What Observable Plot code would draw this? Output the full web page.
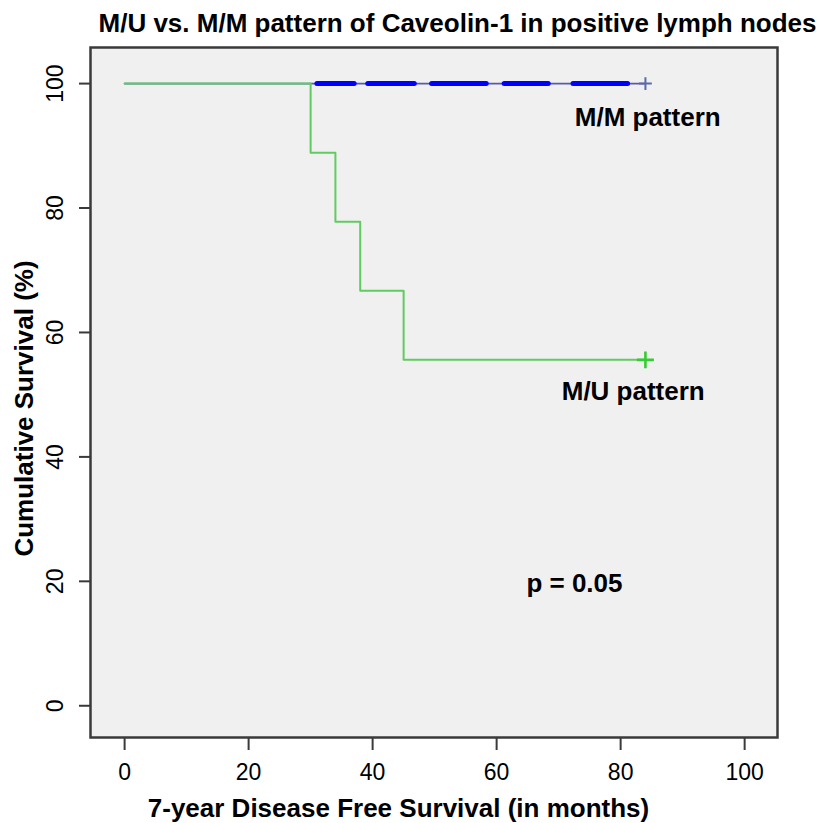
<!DOCTYPE html>
<html>
<head>
<meta charset="utf-8">
<script src="https://cdn.jsdelivr.net/npm/d3@7"></script>
<script src="https://cdn.jsdelivr.net/npm/@observablehq/plot@0.6"></script>
<style>
  html, body { margin: 0; padding: 0; background: #ffffff; }
  #chart svg { display: block; }
</style>
</head>
<body>
<div id="chart"></div>
<script>
// M/U pattern Kaplan–Meier steps
const muMonths = [0, 30, 34, 38, 45, 84];
const muSurvival = [100, 88.9, 77.8, 66.7, 55.6, 55.6];
// M/M pattern (no events)
const mmMonths = [0, 84];
const mmSurvival = [100, 100];
// clustered censoring marks on the M/M curve (month ranges)
const mmCensorStart = [31.1, 39.3, 49.6, 61.3, 72.4];
const mmCensorEnd = [37.1, 46.8, 58.4, 68.4, 81.2];
// end-of-follow-up censor marks
const endCensorMonth = [84, 84];
const endCensorSurvival = [55.6, 100];
const endCensorGroup = ["M/U", "M/M"];
// ticks
const xTicks = [0, 20, 40, 60, 80, 100];
const yTicks = [0, 20, 40, 60, 80, 100];
// texts
const title = "M/U vs. M/M pattern of Caveolin-1 in positive lymph nodes";
const xLabel = "7-year Disease Free Survival (in months)";
const yLabel = "Cumulative Survival (%)";
const annotations = [
  {x: 72.6, y: 94.5, text: "M/M pattern"},
  {x: 70.5, y: 50.5, text: "M/U pattern"},
  {x: 64.8, y: 19.6, text: "p = 0.05"}
];

const mu = muMonths.map((m, i) => ({month: m, surv: muSurvival[i]}));
const mm = mmMonths.map((m, i) => ({month: m, surv: mmSurvival[i]}));
const clusters = mmCensorStart.map((s, i) => ({start: s, end: mmCensorEnd[i], surv: 100}));
const ends = endCensorMonth.map((m, i) => ({month: m, surv: endCensorSurvival[i], group: endCensorGroup[i]}));

const font = "'Liberation Sans', Arial, sans-serif";

const chart = Plot.plot({
  width: 824,
  height: 823,
  marginTop: 47,
  marginLeft: 90,
  marginRight: 47,
  marginBottom: 86,
  style: {fontFamily: font, color: "#000", background: "#ffffff"},
  x: {domain: [-5.5, 105.3]},
  y: {domain: [-5.1, 105.8]},
  marks: [
    Plot.frame({fill: "#f0f0f0", stroke: "none"}),
    Plot.line(mm, {x: "month", y: "surv", stroke: "#5a5aaa", strokeWidth: 1.6}),
    Plot.ruleY(clusters, {y: "surv", x1: "start", x2: "end", stroke: "#0000ff", strokeWidth: 5, strokeLinecap: "round"}),
    Plot.line(mu, {x: "month", y: "surv", curve: "step-after", stroke: "#5fcc5f", strokeWidth: 2}),
    Plot.dot(ends.filter(d => d.group === "M/U"), {x: "month", y: "surv", symbol: "plus", r: 5.5, stroke: "#33cc33", strokeWidth: 2.6, fill: "none"}),
    Plot.dot(ends.filter(d => d.group === "M/M"), {x: "month", y: "surv", symbol: "plus", r: 4.2, stroke: "#5a6aaa", strokeWidth: 2, fill: "none"}),
    Plot.text(annotations, {x: "x", y: "y", text: "text", textAnchor: "start", lineAnchor: "middle", fontSize: 26, fontWeight: "bold", fill: "#000"}),
    Plot.frame({stroke: "#3a3a3a", strokeWidth: 2.5}),
    Plot.axisX({ticks: xTicks, tickSize: 13, tickPadding: 13, fontSize: 23, label: null, stroke: "#3a3a3a", strokeWidth: 2, tickFormat: d => String(d)}),
    Plot.axisY({ticks: yTicks, tickSize: 11, label: null, stroke: "#3a3a3a", strokeWidth: 2, tickFormat: () => ""}),
    Plot.text(yTicks, {y: d => d, frameAnchor: "left", dx: -35, rotate: -90, text: d => String(d), fontSize: 23, textAnchor: "middle", lineAnchor: "middle", fill: "#000"}),
    Plot.text([title], {frameAnchor: "top", dx: 23.5, dy: -24, text: d => d, fontSize: 26, fontWeight: "bold", textAnchor: "middle", lineAnchor: "middle", fill: "#000"}),
    Plot.text([xLabel], {frameAnchor: "bottom", dx: -35.5, dy: 71, text: d => d, fontSize: 26, fontWeight: "bold", textAnchor: "middle", lineAnchor: "middle", fill: "#000"}),
    Plot.text([yLabel], {frameAnchor: "left", dx: -66, dy: 16, rotate: -90, text: d => d, fontSize: 26, fontWeight: "bold", textAnchor: "middle", lineAnchor: "middle", fill: "#000"})
  ]
});
document.getElementById("chart").appendChild(chart);
</script>
</body>
</html>
